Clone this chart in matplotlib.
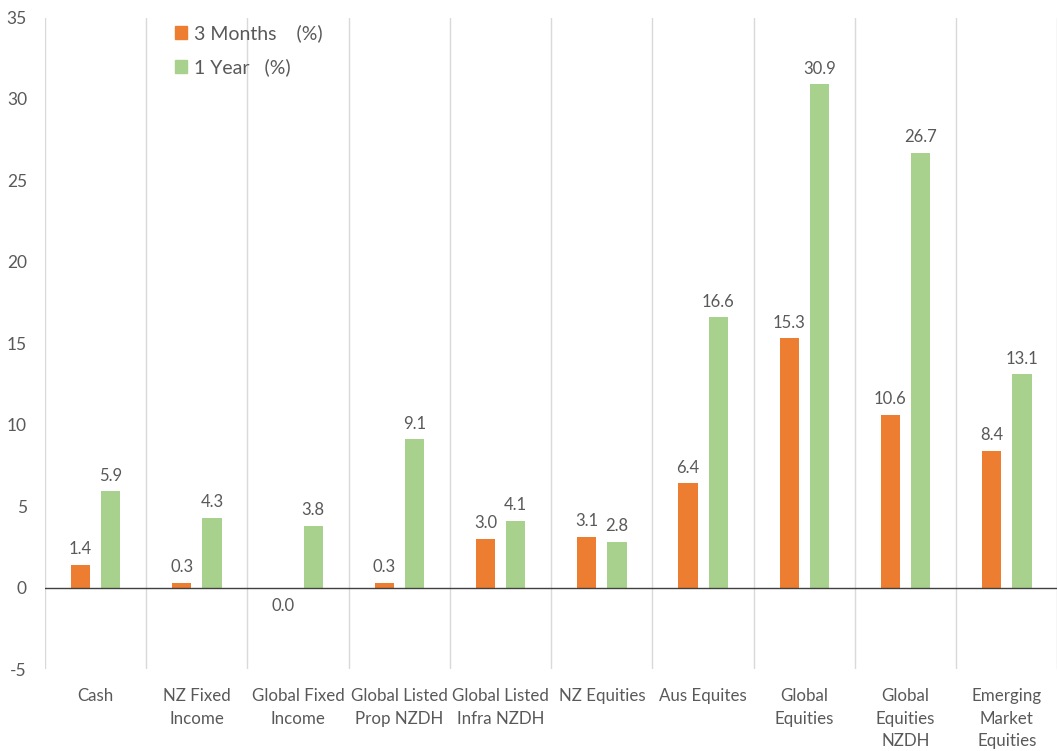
import matplotlib
matplotlib.use("Agg")
import matplotlib.pyplot as plt
from matplotlib.patches import Patch
import numpy as np

categories = ["Cash", "NZ Fixed\nIncome", "Global Fixed\nIncome", "Global Listed\nProp NZDH",
              "Global Listed\nInfra NZDH", "NZ Equities", "Aus Equites", "Global\nEquities",
              "Global\nEquities\nNZDH", "Emerging\nMarket\nEquities"]
three_months = [1.4, 0.3, -0.02, 0.3, 3.0, 3.1, 6.4, 15.3, 10.6, 8.4]
one_year = [5.9, 4.3, 3.8, 9.1, 4.1, 2.8, 16.6, 30.9, 26.7, 13.1]
series_names = ["3 Months    (%)", "1 Year   (%)"]
yticks = [-5, 0, 5, 10, 15, 20, 25, 30, 35]

ORANGE = "#ED7D31"
GREEN = "#A9D18E"
TEXT = "#595959"
GRID = "#D9D9D9"

plt.rcParams['font.family'] = ['Lato', 'DejaVu Sans']

fig = plt.figure(figsize=(10.58, 7.51), dpi=100)
ax = fig.add_axes([45/1058, 1 - 669/751, 1 - 45/1058 - 0.0005, (669 - 17.5)/751])

x = np.arange(len(categories))
w = 0.19
off = 0.15
b1 = ax.bar(x - off, three_months, w, color=ORANGE, zorder=3)
b2 = ax.bar(x + off, one_year, w, color=GREEN, zorder=3)

for bars, vals in ((b1, three_months), (b2, one_year)):
    for rect, v in zip(bars, vals):
        txt = f"{abs(v):.1f}" if abs(v) < 0.05 else f"{v:.1f}"
        cx = rect.get_x() + rect.get_width() / 2
        if v > 0:
            ax.annotate(txt, (cx, v), xytext=(0, 5.5), textcoords="offset points",
                        ha="center", va="bottom", fontsize=12, color=TEXT)
        else:
            ax.annotate(txt, (cx, v), xytext=(0, -7), textcoords="offset points",
                        ha="center", va="top", fontsize=12, color=TEXT)

ax.set_xlim(-0.5, len(categories) - 0.5)
ax.set_ylim(-5, 35)
for b in np.arange(-0.5, len(categories) + 0.5, 1):
    ax.axvline(b, color=GRID, lw=1, zorder=1)
ax.axhline(0, color="#404040", lw=1, zorder=4)

for s in ax.spines.values():
    s.set_visible(False)

ax.set_yticks(yticks)
ax.set_yticklabels([str(t) for t in yticks])
ax.tick_params(axis="y", length=0, pad=13, labelsize=12.5, labelcolor=TEXT)
ax.set_xticks(x)
ax.set_xticklabels(categories, linespacing=1.5)
ax.tick_params(axis="x", length=0, pad=14, labelsize=12.2, labelcolor=TEXT)

handles = [Patch(color=ORANGE), Patch(color=GREEN)]
leg = fig.legend(handles, series_names, loc="upper left", bbox_to_anchor=(157/1058, 1 - 7/751),
                 frameon=False, fontsize=14, handlelength=0.65, handleheight=0.65,
                 handletextpad=0.35, labelspacing=0.8, labelcolor=TEXT)

fig.savefig("out.png", dpi=100)
